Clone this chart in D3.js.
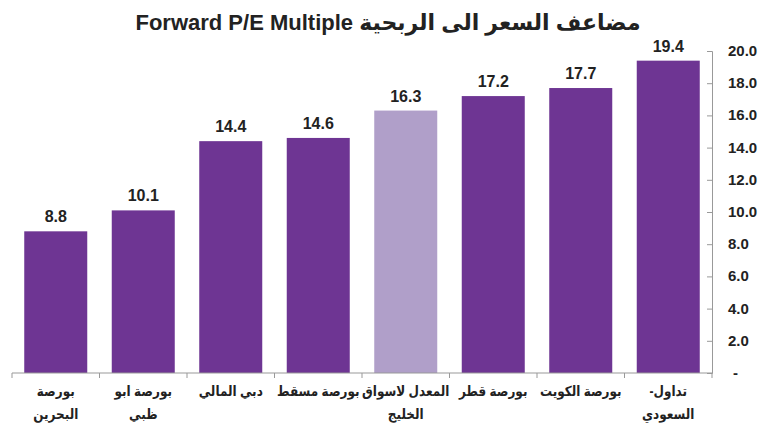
<!DOCTYPE html>
<html>
<head>
<meta charset="utf-8">
<script src="https://cdn.jsdelivr.net/npm/d3@7"></script>
<style>
    body { margin: 0; background: #fff; }
    text { font-family: "Liberation Sans", Arial, "DejaVu Sans", sans-serif; font-weight: bold; fill: #222; }
</style>
</head>
<body>
<svg id="chart" width="770" height="445"></svg>
<script>
// categories (each label split in lines), values, highlighted one
var categories = [
    ['بورصة', 'البحرين'],
    ['بورصة ابو', 'ظبي'],
    ['دبي المالي'],
    ['بورصة مسقط'],
    ['المعدل لاسواق', 'الخليج'],
    ['بورصة قطر'],
    ['بورصة الكويت'],
    ['تداول-', 'السعودي']
];
var values = [8.8, 10.1, 14.4, 14.6, 16.3, 17.2, 17.7, 19.4];
var average = 'المعدل لاسواق';
var yTicks = [0, 2, 4, 6, 8, 10, 12, 14, 16, 18, 20];
var title = 'Forward P/E Multiple مضاعف السعر الى الربحية';

var svg = d3.select('#chart');

var mLeft = 12, mRight = 712, mTop = 51, mBottom = 373;

var x = d3.scaleBand()
    .domain(categories.map(function (c) { return c[0]; }))
    .range([mLeft, mRight])
    .paddingInner(0.28)
    .paddingOuter(0.14);

var y = d3.scaleLinear()
    .domain([0, 20])
    .range([mBottom, mTop]);

// title
svg.append('text')
    .attr('x', 388)
    .attr('y', 30)
    .attr('text-anchor', 'middle')
    .attr('direction', 'ltr')
    .style('font-size', '22px')
    .text(title);

// bars
svg.selectAll('.bar')
    .data(values)
    .enter()
    .append('rect')
    .attr('class', 'bar')
    .attr('x', function (d, i) { return x(categories[i][0]); })
    .attr('y', function (d) { return y(d); })
    .attr('width', x.bandwidth())
    .attr('height', function (d) { return y(0) - y(d); })
    .attr('fill', function (d, i) { return categories[i][0] === average ? '#b09fc9' : '#6e3593'; });

// value labels
svg.selectAll('.val')
    .data(values)
    .enter()
    .append('text')
    .attr('class', 'val')
    .attr('x', function (d, i) { return x(categories[i][0]) + x.bandwidth() / 2; })
    .attr('y', function (d) { return y(d) - 9; })
    .attr('text-anchor', 'middle')
    .style('font-size', '16px')
    .text(function (d) { return d.toFixed(1); });

// y axis on the right
var yAxis = svg.append('g')
    .attr('transform', 'translate(' + mRight + ',0)')
    .call(d3.axisLeft(y).tickValues(yTicks).tickSize(5).tickFormat(function () { return ''; }));
yAxis.selectAll('path, line').attr('stroke', '#999');

svg.selectAll('.ylab')
    .data(yTicks)
    .enter()
    .append('text')
    .attr('class', 'ylab')
    .attr('x', function (d) { return d === 0 ? 733 : 728; })
    .attr('y', function (d) { return y(d) + 5; })
    .style('font-size', '15px')
    .text(function (d) { return d === 0 ? '-' : d.toFixed(1); });

// x axis line with boundary ticks
var bounds = d3.range(categories.length + 1).map(function (i) { return mLeft + i * (mRight - mLeft) / categories.length; });
svg.append('line')
    .attr('x1', mLeft).attr('x2', mRight)
    .attr('y1', mBottom).attr('y2', mBottom)
    .attr('stroke', '#999');
svg.selectAll('.xt')
    .data(bounds)
    .enter()
    .append('line')
    .attr('x1', function (d) { return d; }).attr('x2', function (d) { return d; })
    .attr('y1', mBottom).attr('y2', mBottom + 5)
    .attr('stroke', '#999');

// category labels (narrowed a bit, the source font is condensed)
var lab = svg.selectAll('.cat')
    .data(categories)
    .enter()
    .append('text')
    .attr('class', 'cat')
    .attr('text-anchor', 'middle')
    .attr('direction', 'rtl')
    .attr('transform', function (c) {
        return 'translate(' + (x(c[0]) + x.bandwidth() / 2) + ',0) scale(0.86,1)';
    })
    .style('font-size', '14px');
lab.each(function (c) {
    var t = d3.select(this);
    c.forEach(function (line, j) {
        t.append('tspan')
            .attr('x', 0)
            .attr('y', 396 + j * 23)
            .text(line);
    });
});
</script>
</body>
</html>
